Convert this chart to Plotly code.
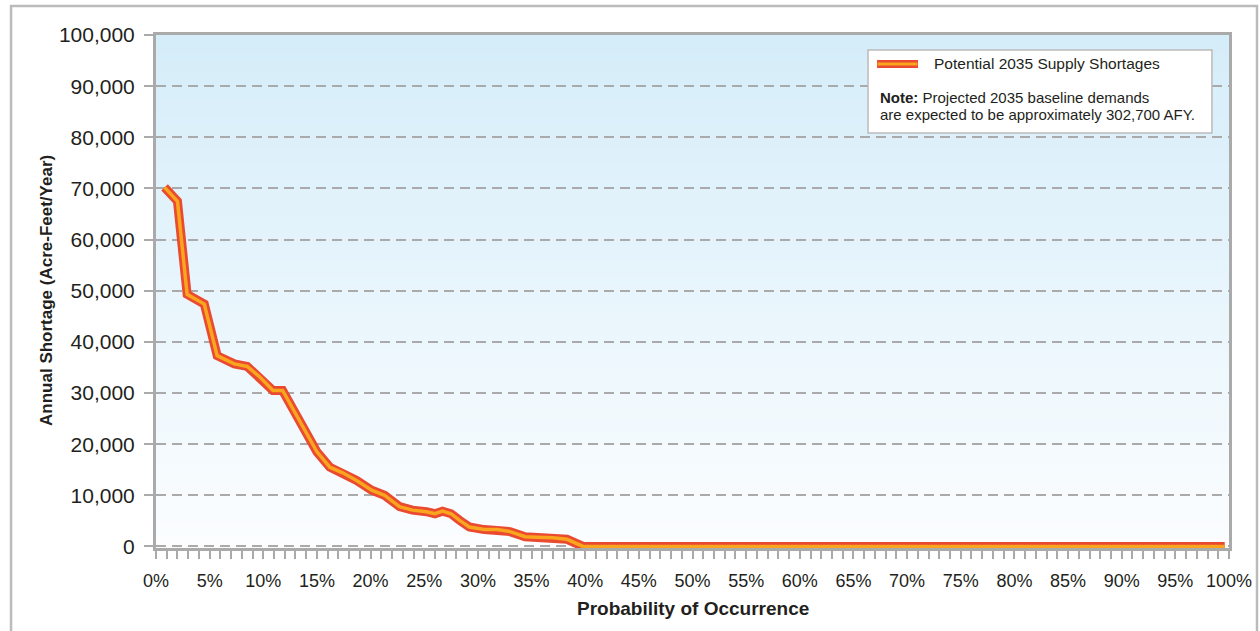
import plotly.graph_objects as go

# Data
probability_pct = [0.8, 2.0, 2.9, 4.5, 5.7, 7.3, 8.5, 9.7, 10.9, 11.8, 15.0, 16.2, 17.4, 18.7,
                   20.1, 21.3, 22.7, 23.9, 25.2, 26.0, 26.7, 27.5, 28.3, 29.2, 30.6, 31.8,
                   33.0, 34.4, 35.5, 37.0, 38.3, 39.8, 99.6]
shortage_afy = [70200, 67500, 49300, 47400, 37300, 35700, 35200, 33100, 30500, 30500, 18500,
                15500, 14400, 12900, 11000, 10000, 7800, 7100, 6800, 6400, 6900, 6400, 5100,
                3800, 3300, 3300, 2900, 1900, 1800, 1700, 1400, 0, 0]
x_tick_vals = list(range(0, 101, 5))
x_tick_text = [f"{v}%" for v in x_tick_vals]
series_name = "Potential 2035 Supply Shortages"
note_line1 = "<b>Note:</b> Projected 2035 baseline demands"
note_line2 = "are expected to be approximately 302,700 AFY."

FONT = "Liberation Sans, Arial, sans-serif"
RED = "#EA4A2F"
ORANGE = "#F9A51E"
GRID = "#AAAAAA"
TXT = "#231F20"

fig = go.Figure()
fig.add_trace(go.Scatter(x=probability_pct, y=shortage_afy, mode="lines",
                         line=dict(color=RED, width=9), name=series_name,
                         showlegend=False, hoverinfo="skip"))
fig.add_trace(go.Scatter(x=probability_pct, y=shortage_afy, mode="lines",
                         line=dict(color=ORANGE, width=3.5), name=series_name,
                         showlegend=False))

shapes = []
# gradient plot background
n = 80
top = (213, 237, 249)
bot = (251, 253, 255)
for i in range(n):
    t = i / (n - 1)
    c = tuple(round(bot[k] + (top[k] - bot[k]) * t) for k in range(3))
    shapes.append(dict(type="rect", xref="paper", yref="paper", x0=0, x1=1,
                       y0=i / n, y1=(i + 1) / n + 0.002, layer="below",
                       line=dict(width=0), fillcolor=f"rgb{c}"))
# outer frame
shapes.append(dict(type="rect", xref="paper", yref="paper", x0=-0.1351, x1=1.0261,
                   y0=-0.2, y1=1.0565, layer="below", line=dict(color="#BBBBBB", width=2.5),
                   fillcolor="rgba(0,0,0,0)"))
# legend box
shapes.append(dict(type="rect", xref="paper", yref="paper", x0=0.6636, x1=0.9841,
                   y0=0.8090, y1=0.9708, layer="above", line=dict(color="#BBBBBB", width=1.5),
                   fillcolor="white"))
shapes.append(dict(type="line", xref="paper", yref="paper", x0=0.6720, x1=0.7102,
                   y0=0.9435, y1=0.9435, layer="above", line=dict(color=RED, width=8)))
shapes.append(dict(type="line", xref="paper", yref="paper", x0=0.6725, x1=0.7097,
                   y0=0.9435, y1=0.9435, layer="above", line=dict(color=ORANGE, width=3)))

annotations = [
    dict(text=series_name, xref="paper", yref="paper", x=0.7232, y=0.9435,
         xanchor="left", yanchor="middle", showarrow=False,
         font=dict(family=FONT, size=15.5, color=TXT)),
    dict(text=note_line1, xref="paper", yref="paper", x=0.6729, y=0.8772,
         xanchor="left", yanchor="middle", showarrow=False,
         font=dict(family=FONT, size=15, color=TXT)),
    dict(text=note_line2, xref="paper", yref="paper", x=0.6729, y=0.8441,
         xanchor="left", yanchor="middle", showarrow=False,
         font=dict(family=FONT, size=15, color=TXT)),
    dict(text="<b>Annual Shortage (Acre-Feet/Year)</b>", xref="paper", yref="paper",
         x=-0.1016, y=0.503, textangle=-90, xanchor="center", yanchor="middle",
         showarrow=False, font=dict(family=FONT, size=17, color=TXT)),
    dict(text="<b>Probability of Occurrence</b>", xref="paper", yref="paper",
         x=0.5005, y=-0.1189, xanchor="center", yanchor="middle",
         showarrow=False, font=dict(family=FONT, size=19, color=TXT)),
]

fig.update_layout(
    width=1260, height=631,
    margin=dict(l=156, r=31, t=35, b=83, autoexpand=False),
    paper_bgcolor="white", plot_bgcolor="white",
    font=dict(family=FONT, color=TXT),
    shapes=shapes, annotations=annotations, showlegend=False,
    xaxis=dict(range=[0, 100], tickvals=x_tick_vals, ticktext=x_tick_text,
               automargin=False,
               ticks="outside", ticklen=8, tickwidth=2, tickcolor=GRID,
               minor=dict(dtick=1, tick0=0, ticks="outside", ticklen=8, tickwidth=2,
                          tickcolor=GRID, showgrid=False),
               showgrid=False, zeroline=False, showline=True, linecolor=GRID,
               linewidth=3, mirror=True, tickfont=dict(size=18, color=TXT),
               ticklabelstandoff=6),
    yaxis=dict(range=[-300, 100000], tickvals=list(range(0, 100001, 10000)),
               automargin=False,
               tickformat=",", ticks="outside", ticklen=9, tickwidth=2, tickcolor=GRID,
               showgrid=True, gridcolor=GRID, gridwidth=2, griddash="10px,6px",
               zeroline=False, showline=True, linecolor=GRID, linewidth=3, mirror=True,
               tickfont=dict(size=21, color=TXT), ticklabelstandoff=5),
)

fig.write_html("out.html", config={"displayModeBar": False},
               post_script="document.body.style.margin='0';")
